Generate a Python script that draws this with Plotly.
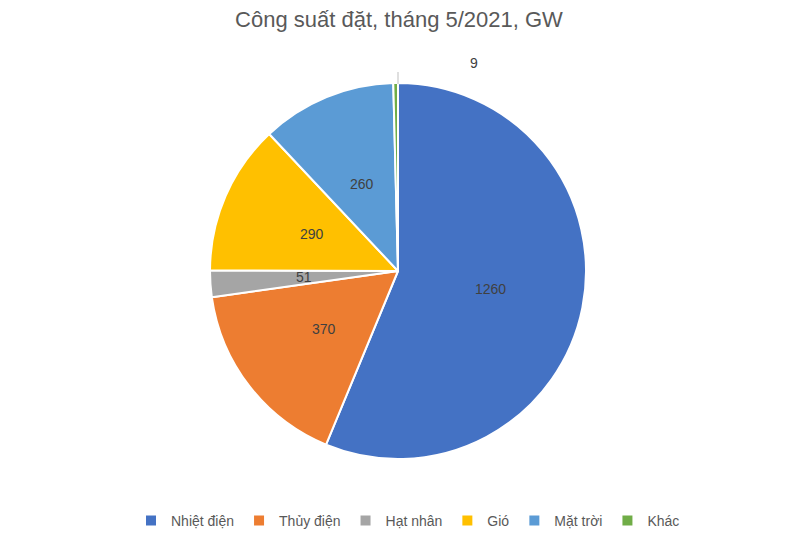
import math
import plotly.graph_objects as go

# Data
labels = ["Nhiệt điện", "Thủy điện", "Hạt nhân", "Gió", "Mặt trời", "Khác"]
values = [1260, 370, 51, 290, 260, 9]
colors = ["#4472C4", "#ED7D31", "#A5A5A5", "#FFC000", "#5B9BD5", "#70AD47"]

W, H = 800, 549
OFF = 8  # page body margin shifts the figure by 8px
cx, cy, r = 398 - OFF, 271 - OFF, 188
FONT = "Liberation Sans, Arial"


def px(x, y):
    # screen pixel -> paper coords
    return (x - OFF) / W, 1 - (y - OFF) / H


fig = go.Figure(
    go.Pie(
        labels=labels,
        values=values,
        textinfo="none",
        sort=False,
        direction="clockwise",
        rotation=0,
        marker=dict(colors=colors, line=dict(color="white", width=2)),
        domain=dict(
            x=[(cx - r) / W, (cx + r) / W],
            y=[(H - cy - r) / H, (H - cy + r) / H],
        ),
        hoverinfo="label+value",
    )
)

# data labels at half radius, like Excel's default placement
total = sum(values)
cum = 0
for lab, v in zip(labels, values):
    mid = (cum + v / 2) / total * 2 * math.pi
    cum += v
    if v < 20:
        continue
    x = cx + 0.5 * r * math.sin(mid)
    y = cy - 0.5 * r * math.cos(mid)
    fig.add_annotation(
        x=x / W, y=1 - y / H, xref="paper", yref="paper",
        xanchor="center", yanchor="middle",
        text=str(v), showarrow=False,
        font=dict(size=14, color="#404040", family=FONT),
    )

# the tiny "Khác" slice is labelled outside with a leader line
lx, ly = px(474, 63)
fig.add_annotation(
    x=lx, y=ly, xref="paper", yref="paper",
    xanchor="center", yanchor="middle",
    text=str(values[-1]), showarrow=False,
    font=dict(size=14, color="#404040", family=FONT),
)
x0, y0 = px(398, 72)
x1, y1 = px(398, 84)
fig.add_shape(
    type="line", xref="paper", yref="paper",
    x0=x0, x1=x1, y0=y0, y1=y1,
    line=dict(color="#BFBFBF", width=1),
)

tx, ty = px(399, 19)
lgx, lgy = px(408, 521)
fig.update_layout(
    width=W, height=H,
    margin=dict(l=0, r=0, t=0, b=0),
    paper_bgcolor="white",
    plot_bgcolor="white",
    title=dict(
        text="Công suất đặt, tháng 5/2021, GW",
        x=tx, xanchor="center", y=ty, yanchor="middle",
        font=dict(size=22, color="#595959", family=FONT),
    ),
    legend=dict(
        orientation="h", x=lgx, xanchor="center", y=lgy, yanchor="middle",
        font=dict(size=14, color="#595959", family=FONT),
        itemwidth=30, tracegroupgap=0,
    ),
    showlegend=True,
)

fig.write_html("out.html")
